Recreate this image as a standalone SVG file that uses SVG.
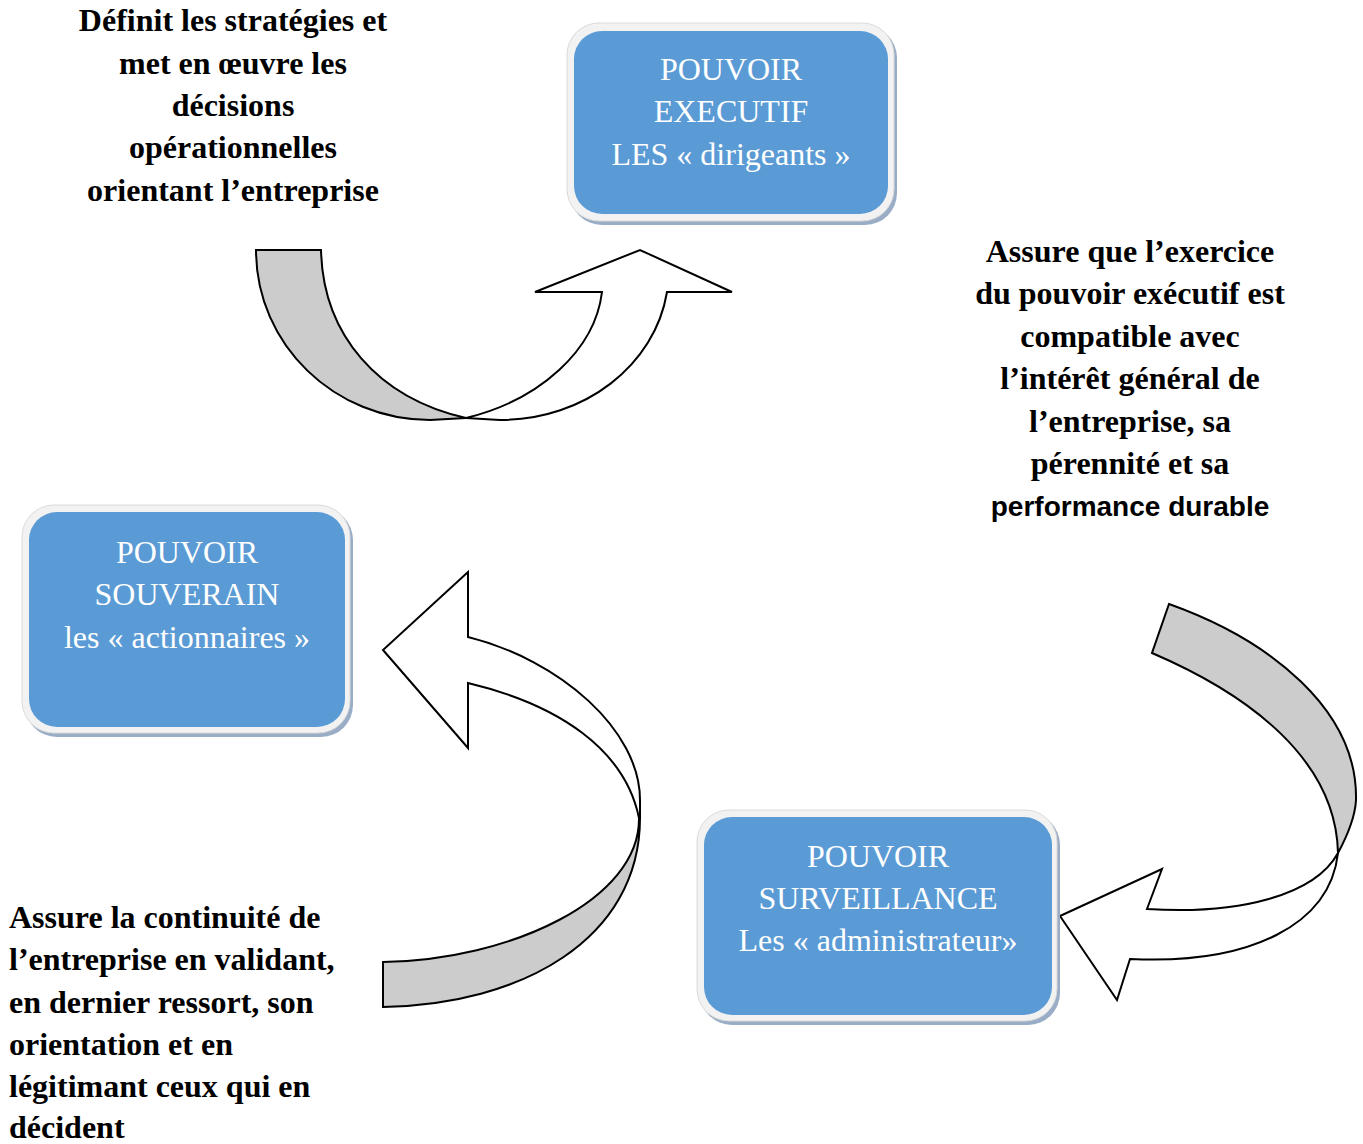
<svg xmlns="http://www.w3.org/2000/svg" width="1363" height="1144" viewBox="0 0 1363 1144">
  <style>
    .shadow { fill: #9AADC6; }
    .frame { fill: #F2F2F2; stroke: #DADADA; stroke-width: 1; }
    .panel { fill: #5B9BD5; }
    .label { font-family: "Liberation Serif", "Times New Roman", serif; font-size: 32px; fill: #FFFFFF; text-anchor: middle; }
    .note { font-family: "Liberation Serif", "Times New Roman", serif; font-size: 32px; font-weight: bold; fill: #000000; }
    .note-sans { font-family: "Liberation Sans", Arial, sans-serif; font-size: 28px; font-weight: bold; fill: #000000; }
    .back { fill: #CCCCCC; stroke: #000000; stroke-width: 2; stroke-linejoin: miter; }
    .front { fill: #FFFFFF; stroke: #000000; stroke-width: 2; stroke-linejoin: miter; }
  </style>

  <!-- curved ribbon arrows -->
  <g id="connectors">
    <!-- towards the executive box -->
    <g id="arrow-executif">
      <path class="back" d="M256,250 L321,250 C323,335 378,398 466,418 L430,420 C335,420 256,345 256,250 Z"/>
      <path class="front" d="M466,418 C540,400 595,350 602,292 L535,292 L640,250 L732,292 L667,292 C655,365 585,420 500,420 L466,418 Z"/>
    </g>
    <!-- towards the sovereign box -->
    <g id="arrow-souverain">
      <path class="back" d="M383,962 C510,960 640,900 639,818 L640,818 C640,940 520,1005 383,1007 Z"/>
      <path class="front" d="M468,637 C560,660 640,730 640,800 L640,818 L639,818 C625,750 560,705 468,683 L468,748 L383,650 L468,572 Z"/>
    </g>
    <!-- towards the supervisory box -->
    <g id="arrow-surveillance">
      <path class="back" d="M1169,604 C1270,640 1358,710 1356,800 C1355,820 1345,840 1338,853 C1336,760 1250,695 1152,653 Z"/>
      <path class="front" d="M1338,853 C1315,895 1240,915 1147,909 L1162,869 L1060,916 L1117,1000 L1130,959 C1250,965 1330,925 1338,853 Z"/>
    </g>
  </g>

  <!-- executive power -->
  <g id="node-executif">
    <rect class="shadow" x="570" y="26" width="327" height="199" rx="32"/>
    <rect class="frame" x="567" y="23" width="327" height="198" rx="32"/>
    <rect class="panel" x="574" y="31" width="314" height="183" rx="28"/>
    <text class="label" x="731" y="80">POUVOIR</text>
    <text class="label" x="731" y="122">EXECUTIF</text>
    <text class="label" x="731" y="165">LES « dirigeants »</text>
  </g>

  <!-- sovereign power -->
  <g id="node-souverain">
    <rect class="shadow" x="25" y="508" width="328" height="229" rx="32"/>
    <rect class="frame" x="22" y="505" width="328" height="228" rx="32"/>
    <rect class="panel" x="29" y="512" width="316" height="215" rx="28"/>
    <text class="label" x="187" y="563">POUVOIR</text>
    <text class="label" x="187" y="605">SOUVERAIN</text>
    <text class="label" x="187" y="648">les « actionnaires »</text>
  </g>

  <!-- supervisory power -->
  <g id="node-surveillance">
    <rect class="shadow" x="700" y="813" width="360" height="212" rx="32"/>
    <rect class="frame" x="697" y="810" width="360" height="211" rx="32"/>
    <rect class="panel" x="704" y="817" width="348" height="198" rx="28"/>
    <text class="label" x="878" y="867">POUVOIR</text>
    <text class="label" x="878" y="909">SURVEILLANCE</text>
    <text class="label" x="878" y="951">Les « administrateur»</text>
  </g>

  <!-- descriptions -->
  <g id="note-executif" class="note" text-anchor="middle">
    <text x="233" y="31">Définit les stratégies et</text>
    <text x="233" y="74">met en œuvre les</text>
    <text x="233" y="116">décisions</text>
    <text x="233" y="158">opérationnelles</text>
    <text x="233" y="201">orientant l’entreprise</text>
  </g>

  <g id="note-surveillance" text-anchor="middle">
    <text class="note" x="1130" y="262">Assure que l’exercice</text>
    <text class="note" x="1130" y="304">du pouvoir exécutif est</text>
    <text class="note" x="1130" y="347">compatible avec</text>
    <text class="note" x="1130" y="389">l’intérêt général de</text>
    <text class="note" x="1130" y="432">l’entreprise, sa</text>
    <text class="note" x="1130" y="474">pérennité et sa</text>
    <text class="note-sans" x="1130" y="516">performance durable</text>
  </g>

  <g id="note-souverain" class="note">
    <text x="9" y="928">Assure la continuité de</text>
    <text x="9" y="970">l’entreprise en validant,</text>
    <text x="9" y="1013">en dernier ressort, son</text>
    <text x="9" y="1055">orientation et en</text>
    <text x="9" y="1097">légitimant ceux qui en</text>
    <text x="9" y="1138">décident</text>
  </g>
</svg>
